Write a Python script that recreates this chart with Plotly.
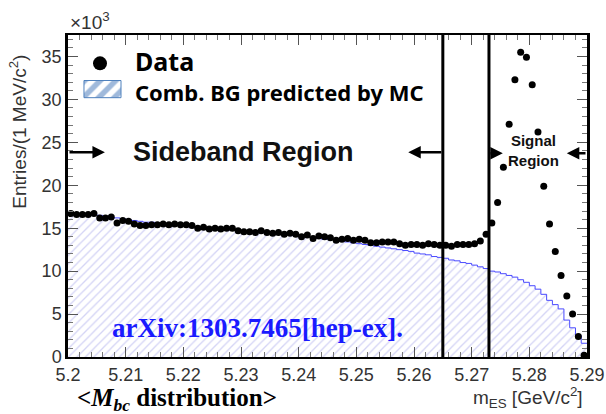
import plotly.graph_objects as go

# ---- data (entries in units of 10^3 per 1 MeV/c^2 bin) ----
bin_start = 5.200
bin_width = 0.001
data_counts = [
    16.7, 16.6, 16.6, 16.6, 16.7, 16.2, 16.2, 16.3, 15.6, 15.9,
    15.8, 15.5, 15.3, 15.3, 15.4, 15.4, 15.5, 15.4, 15.5, 15.4,
    15.4, 15.3, 15.0, 15.1, 14.9, 15.0, 14.9, 15.0, 15.0, 14.7,
    14.6, 14.6, 14.5, 14.7, 14.5, 14.4, 14.5, 14.3, 14.4, 14.3,
    14.0, 14.2, 13.8, 14.1, 14.0, 13.9, 13.6, 13.7, 13.8, 13.6,
    13.7, 13.6, 13.3, 13.3, 13.4, 13.4, 13.4, 13.2, 13.0, 13.1,
    13.1, 13.0, 13.2, 13.1, 13.0, 13.0, 12.9, 13.1, 13.1, 13.1,
    13.2, 13.5, 14.3, 15.6, 18.0, 22.1, 27.1, 32.3, 35.5, 34.9,
    31.7, 26.2, 19.9, 15.5, 12.3, 9.5, 7.1, 5.0, 2.4, 0.2,
]
bg_counts = [
    16.8, 16.7, 16.7, 16.6, 16.6, 16.5, 16.4, 16.3, 16.2, 16.1,
    16.0, 15.9, 15.8, 15.7, 15.7, 15.6, 15.5, 15.5, 15.4, 15.3,
    15.3, 15.2, 15.1, 15.1, 15.0, 15.0, 14.9, 14.8, 14.8, 14.7,
    14.7, 14.6, 14.5, 14.5, 14.4, 14.4, 14.3, 14.2, 14.2, 14.1,
    14.0, 14.0, 13.9, 13.8, 13.7, 13.7, 13.6, 13.5, 13.4, 13.3,
    13.2, 13.1, 13.0, 12.9, 12.8, 12.7, 12.6, 12.5, 12.4, 12.3,
    12.1, 12.0, 11.9, 11.7, 11.6, 11.5, 11.3, 11.2, 11.0, 10.9,
    10.7, 10.5, 10.3, 10.0, 9.9, 9.7, 9.5, 9.3, 9.0, 8.7,
    8.3, 7.9, 7.3, 6.6, 6.1, 5.6, 4.3, 3.4, 2.5, 1.6,
]
x_ticks = [5.20, 5.21, 5.22, 5.23, 5.24, 5.25, 5.26, 5.27, 5.28, 5.29]
x_ticklabels = ["5.2", "5.21", "5.22", "5.23", "5.24", "5.25", "5.26", "5.27", "5.28", "5.29"]
y_ticks = [0, 5, 10, 15, 20, 25, 30, 35]
sideband_edge = 5.265
signal_edge = 5.273
x_min, x_max = 5.20, 5.29
y_max = 37.5

n = len(data_counts)
centers = [bin_start + (i + 0.5) * bin_width for i in range(n)]
edges = [bin_start + i * bin_width for i in range(n)] + [bin_start + n * bin_width]
bg_steps = bg_counts + [bg_counts[-1]]

fig = go.Figure()

# MC combinatorial background (hatched histogram)
fig.add_trace(go.Scatter(
    x=edges, y=bg_steps, mode="lines", line=dict(shape="hv", color="#4a4aff", width=1),
    fill="tozeroy", fillcolor="white",
    fillpattern=dict(shape="/", fgcolor="#a9a9ec", bgcolor="white", size=6, solidity=0.22),
    showlegend=False, hoverinfo="skip",
))

# Data points
fig.add_trace(go.Scatter(
    x=centers, y=data_counts, mode="markers",
    marker=dict(color="black", size=7), showlegend=False,
))

# legend swatch (hatched box)
lx0, lx1 = 5.20277, 5.20919
ly0, ly1 = 30.2, 32.2
fig.add_trace(go.Scatter(
    x=[lx0, lx1, lx1, lx0, lx0], y=[ly0, ly0, ly1, ly1, ly0], mode="lines",
    line=dict(color="#4f81bd", width=1), fill="toself", fillcolor="white",
    fillpattern=dict(shape="/", fgcolor="#3f74b8", bgcolor="white", size=11, solidity=0.5),
    showlegend=False, hoverinfo="skip",
))
# legend data marker
fig.add_trace(go.Scatter(
    x=[5.20555], y=[34.2], mode="markers", marker=dict(color="black", size=14),
    showlegend=False, hoverinfo="skip",
))

# region boundaries
for xv in (sideband_edge, signal_edge):
    fig.add_shape(type="line", x0=xv, x1=xv, y0=0, y1=1, xref="x", yref="paper",
                  line=dict(color="black", width=3), layer="above")

sans = "Liberation Sans, Arial, sans-serif"
serif = "Liberation Serif, Times New Roman, serif"
legend_font = "Noto Sans, Open Sans, sans-serif"

annotations = [
    dict(x=5.2113, y=34.5, xref="x", yref="y", text="<b>Data</b>", showarrow=False,
         xanchor="left", yanchor="middle", font=dict(family=legend_font, size=25, color="black")),
    dict(x=5.2113, y=30.9, xref="x", yref="y", text="<b>Comb. BG predicted by MC</b>", showarrow=False,
         xanchor="left", yanchor="middle", font=dict(family=legend_font, size=22, color="black")),
    dict(x=5.2304, y=23.84, xref="x", yref="y", text="<b>Sideband Region</b>", showarrow=False,
         xanchor="center", yanchor="middle", font=dict(family=sans, size=27, color="#111")),
    dict(x=5.2808, y=24.0, xref="x", yref="y", text="<b>Signal<br>Region</b>", showarrow=False,
         xanchor="center", yanchor="middle", font=dict(family=sans, size=15, color="#111")),
    dict(x=5.2328, y=3.4, xref="x", yref="y", text="<b>arXiv:1303.7465[hep-ex].</b>", showarrow=False,
         xanchor="center", yanchor="middle", font=dict(family=serif, size=27, color="#1a1aff")),
    dict(x=0.0, y=1.0, xref="paper", yref="paper", text="×10<sup>3</sup>", showarrow=False,
         xanchor="left", yanchor="bottom", font=dict(family=sans, size=19, color="#333")),
    dict(x=0.996, y=-0.127, xref="paper", yref="paper", text="m<sub>ES</sub> [GeV/c<sup>2</sup>]",
         showarrow=False, xanchor="right", yanchor="middle", font=dict(family=sans, size=19, color="#333")),
    dict(x=-0.098, y=0.70, xref="paper", yref="paper", text="Entries/(1 MeV/c<sup>2</sup>)",
         showarrow=False, textangle=-90, xanchor="center", yanchor="middle",
         font=dict(family=sans, size=19, color="#333")),
    dict(x=0.0135, y=-0.132, xref="paper", yref="paper",
         text="<b>&lt;<i>M<sub>bc</sub></i> distribution&gt;</b>", showarrow=False,
         xanchor="left", yanchor="middle", font=dict(family=serif, size=25, color="black")),
]

# arrows (head, tail)
arrows = [
    (5.2064, 5.2000, 23.84),
    (5.2590, 5.2650, 23.84),
    (5.2754, 5.2730, 23.72),
    (5.2865, 5.2900, 23.72),
]
for hx, tx, yy in arrows:
    annotations.append(dict(x=hx, y=yy, ax=tx, ay=yy, xref="x", yref="y", axref="x", ayref="y",
                            text="", showarrow=True, arrowhead=2, arrowsize=1, arrowwidth=2.5,
                            arrowcolor="black"))

fig.update_layout(
    width=606, height=414,
    margin=dict(l=68, r=19, t=35, b=57, autoexpand=False),
    paper_bgcolor="white", plot_bgcolor="white",
    annotations=annotations,
    xaxis=dict(range=[x_min, x_max], tickvals=x_ticks, ticktext=x_ticklabels, automargin=False,
               ticks="inside", ticklen=10, tickwidth=1, tickcolor="#555",
               minor=dict(dtick=0.002, ticks="inside", ticklen=5, tickcolor="#777", showgrid=False),
               showgrid=False, zeroline=False, showline=True, linecolor="black", linewidth=2,
               mirror="ticks", tickfont=dict(family=sans, size=18, color="#333")),
    yaxis=dict(range=[0, y_max], tickvals=y_ticks, automargin=False,
               ticks="inside", ticklen=10, tickwidth=1, tickcolor="#555",
               minor=dict(dtick=1, ticks="inside", ticklen=5, tickcolor="#777", showgrid=False),
               showgrid=False, zeroline=False, showline=True, linecolor="black", linewidth=2.5,
               mirror="ticks", tickfont=dict(family=sans, size=18, color="#333")),
)

fig.write_html("out.html")
